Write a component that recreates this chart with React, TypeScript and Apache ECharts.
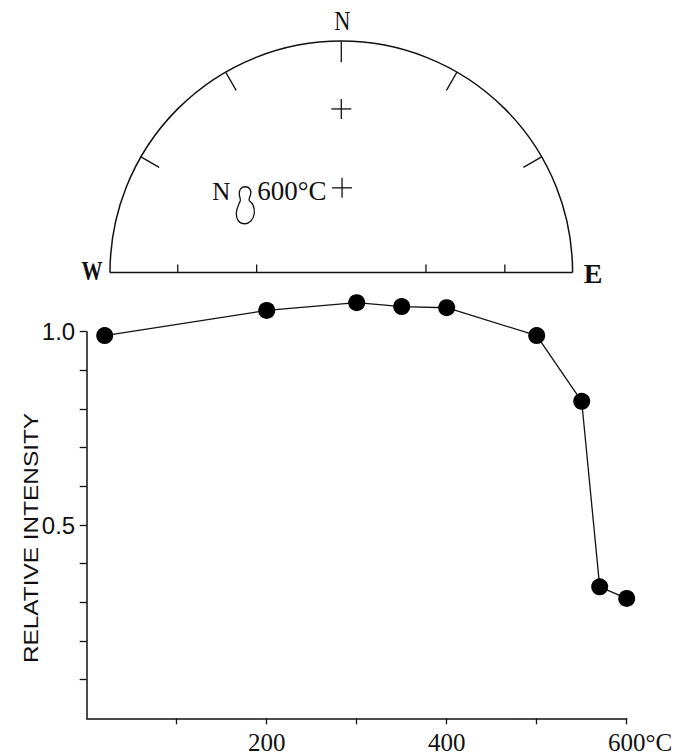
import React, { useEffect, useRef } from "react";
import * as echarts from "echarts";

// ---- Thermal demagnetisation curve ----
const temperatures = [20, 200, 300, 350, 400, 500, 550, 570, 600];
const intensities = [0.99, 1.055, 1.075, 1.065, 1.062, 0.99, 0.82, 0.34, 0.31];
const xTickValues = [100, 200, 300, 400, 500, 600];
const xLabelValues = [200, 400, 600];
const yTickValues = [0.1, 0.2, 0.3, 0.4, 0.5, 0.6, 0.7, 0.8, 0.9, 1.0];
const yLabelValues = [0.5, 1.0];
const yAxisTitle = "RELATIVE INTENSITY";

// ---- Equal-area half net (declination / inclination) ----
const rimTickDecs = [-60, -30, 0, 30, 60];
const baseTickIncs = [30, 60];
const crossDecs = [0, 0.5];
const crossIncs = [30, 60];
const ovalDec = -55;
const ovalInc = 48;

const OVAL_PATH =
  "M 9 0 C 13 0 15 3 14.5 7 C 14 10 12 12 13 14 C 16 16 18.5 20 18 27 C 17 33 13 37 8.5 37 C 3 37 0 33 0 27 C 0 21 3 17 4 14 C 4.5 12 3 10 3 7 C 3 3 5 0 9 0 Z";
echarts.graphic.registerShape("oval8", echarts.graphic.extendPath(OVAL_PATH, {}));

const CX = 341.3;
const CY = 272.5;
const R = 231.3;
const INK = "#111";

function proj(dec: number, inc: number) {
  const r = Math.SQRT2 * Math.sin(((90 - inc) / 2) * Math.PI / 180);
  const a = (dec * Math.PI) / 180;
  return { x: CX + R * r * Math.sin(a), y: CY - R * r * Math.cos(a) };
}

function buildNet(): any[] {
  const els: any[] = [];
  els.push({
    type: "arc",
    shape: { cx: CX, cy: CY, r: R, startAngle: Math.PI, endAngle: 2 * Math.PI, clockwise: true },
    style: { stroke: INK, lineWidth: 1.5, fill: null },
    silent: true,
  });
  els.push({
    type: "line",
    shape: { x1: CX - R, y1: CY, x2: CX + R, y2: CY },
    style: { stroke: INK, lineWidth: 1.5 },
  });
  rimTickDecs.forEach((d) => {
    const a = (d * Math.PI) / 180;
    els.push({
      type: "line",
      shape: {
        x1: CX + R * Math.sin(a),
        y1: CY - R * Math.cos(a),
        x2: CX + (R - 21) * Math.sin(a),
        y2: CY - (R - 21) * Math.cos(a),
      },
      style: { stroke: INK, lineWidth: 1.3 },
    });
  });
  [-90, 90].forEach((d) => {
    baseTickIncs.forEach((inc) => {
      const p = proj(d, inc);
      els.push({
        type: "line",
        shape: { x1: p.x, y1: CY, x2: p.x, y2: CY - 8 },
        style: { stroke: INK, lineWidth: 1.3 },
      });
    });
  });
  crossDecs.forEach((d, i) => {
    const p = proj(d, crossIncs[i]);
    els.push({
      type: "line",
      shape: { x1: p.x - 10, y1: p.y, x2: p.x + 10, y2: p.y },
      style: { stroke: INK, lineWidth: 1.3 },
    });
    els.push({
      type: "line",
      shape: { x1: p.x, y1: p.y - 10, x2: p.x, y2: p.y + 10 },
      style: { stroke: INK, lineWidth: 1.3 },
    });
  });
  const o = proj(ovalDec, ovalInc);
  els.push({
    type: "oval8",
    x: o.x - 9,
    y: o.y - 18.5,
    style: { fill: null, stroke: INK, lineWidth: 1.3 },
  });
  els.push({
    type: "text",
    x: o.x - 15,
    y: o.y - 1,
    style: {
      text: "N",
      fill: INK,
      font: '25px "Liberation Serif"',
      textAlign: "right",
      textVerticalAlign: "bottom",
    },
  });
  els.push({
    type: "text",
    x: o.x + 12,
    y: o.y - 1,
    style: {
      text: "600°C",
      fill: INK,
      font: '27px "Liberation Serif"',
      textAlign: "left",
      textVerticalAlign: "bottom",
    },
  });
  els.push({
    type: "text",
    x: CX + 1,
    y: 34,
    scaleX: 0.8,
    style: { text: "N", fill: INK, font: '28px "Liberation Serif"', textAlign: "center", textVerticalAlign: "bottom" },
  });
  els.push({
    type: "text",
    x: 92,
    y: 284,
    scaleX: 0.75,
    style: { text: "W", fill: INK, font: 'bold 28px "Liberation Serif"', textAlign: "center", textVerticalAlign: "bottom" },
  });
  els.push({
    type: "text",
    x: 593,
    y: 287,
    style: { text: "E", fill: INK, font: 'bold 28px "Liberation Serif"', textAlign: "center", textVerticalAlign: "bottom" },
  });
  // y-axis title, reading bottom to top
  els.push({
    type: "text",
    x: 31,
    y: 538,
    rotation: Math.PI / 2,
    scaleX: 1.22,
    style: {
      text: yAxisTitle,
      fill: INK,
      font: '20px "Liberation Sans"',
      textAlign: "center",
      textVerticalAlign: "middle",
    },
  });
  return els;
}

export default function App() {
  const ref = useRef<HTMLDivElement>(null);
  useEffect(() => {
    if (!ref.current) return;
    const chart = echarts.init(ref.current, null, { renderer: "svg" });
    chart.setOption({
      animation: false,
      backgroundColor: "#fff",
      grid: { left: 86.7, right: 56.3, top: 331.7, bottom: 37.7 },
      xAxis: {
        type: "value",
        min: 0,
        max: 600,
        interval: 100,
        splitLine: { show: false },
        axisLine: { lineStyle: { color: INK, width: 1.5 } },
        axisTick: { customValues: xTickValues, length: 6, lineStyle: { color: INK, width: 1.3 } },
        axisLabel: {
          customValues: xLabelValues,
          margin: 12,
          color: INK,
          fontSize: 25,
          fontFamily: "Liberation Serif",
          formatter: (v: number) => (v === 600 ? "{u|600°C}" : String(v)),
          rich: { u: { fontSize: 25, fontFamily: "Liberation Serif", color: INK, padding: [0, 0, 0, 27] } },
        },
      },
      yAxis: {
        type: "value",
        min: 0,
        max: 1.0,
        interval: 0.1,
        splitLine: { show: false },
        axisLine: { lineStyle: { color: INK, width: 1.5 } },
        axisTick: { customValues: yTickValues, length: 7, lineStyle: { color: INK, width: 1.3 } },
        axisLabel: {
          customValues: yLabelValues,
          margin: 11.5,
          color: INK,
          fontSize: 24,
          fontFamily: "Liberation Sans",
          formatter: (v: number) => v.toFixed(1),
        },
      },
      series: [
        {
          type: "line",
          data: temperatures.map((t, i) => [t, intensities[i]]),
          symbol: "circle",
          symbolSize: 17,
          clip: false,
          itemStyle: { color: "#000" },
          lineStyle: { color: INK, width: 1.3 },
        },
      ],
      graphic: buildNet(),
    });
    return () => chart.dispose();
  }, []);
  return (
    <div
      ref={ref}
      style={{ position: "absolute", left: 0, top: 0, width: 683, height: 756, background: "#fff" }}
    />
  );
}
